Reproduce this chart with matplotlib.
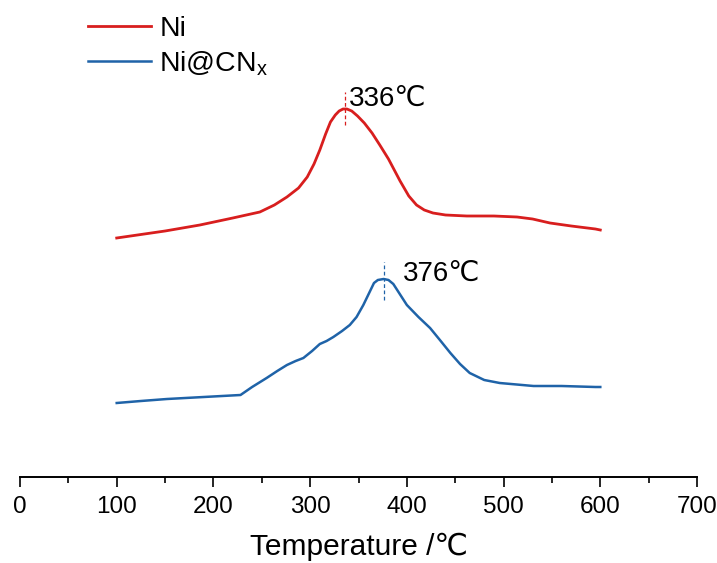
import matplotlib.pyplot as plt
from matplotlib.ticker import MultipleLocator

# TPD-like profiles (arbitrary intensity)
temp_ni = [100, 150, 186, 220, 248, 263, 276, 288, 297, 304, 310, 316, 321, 326, 330, 334, 338,
           343, 349, 356, 364, 372, 381, 393, 402, 410, 418, 427, 440, 462, 490, 514, 530, 548,
           570, 595, 600]
int_ni = [238, 231, 225, 218, 212, 205, 197, 188, 177, 164, 150, 134, 122, 115, 111, 109, 109,
          111, 116, 123, 133, 145, 159, 181, 196, 205, 210, 213, 215, 216, 216, 217, 219, 223,
          226, 229, 230]

temp_cn = [100, 125, 152, 190, 228, 240, 255, 266, 276, 285, 293, 302, 310, 317, 324, 333, 341,
           348, 355, 361, 366, 370, 376, 381, 386, 392, 400, 412, 424, 435, 445, 455, 465, 480,
           496, 531, 560, 595, 600]
int_cn = [403, 401, 399, 397, 395, 387, 378, 371, 365, 361, 358, 351, 344, 341, 337, 331, 325,
          317, 305, 293, 283, 280, 279, 280, 284, 293, 305, 317, 328, 341, 353, 364, 373, 380,
          383, 386, 386, 387, 387]

peak_ni = 336
peak_cn = 376

base = 477  # pixel row of the x axis, used to flip values to intensity
y_ni = [base - v for v in int_ni]
y_cn = [base - v for v in int_cn]

red = '#d81e1e'
blue = '#1f63a8'
fams = ['Liberation Sans', 'DejaVu Sans']

fig = plt.figure(figsize=(7.17, 5.63), dpi=100)
ax = fig.add_axes([20 / 717, (563 - 477) / 563, 677 / 717, 477 / 563])

ax.plot(temp_ni, y_ni, color=red, lw=2.0, label='Ni')
ax.plot(temp_cn, y_cn, color=blue, lw=1.8, label='Ni@CN$_\\mathregular{x}$')

ax.plot([peak_ni, peak_ni], [base - 125, base - 92], ls=(0, (3, 2)), color=red, lw=0.9)
ax.plot([peak_cn, peak_cn], [base - 300, base - 262], ls=(0, (3, 2)), color=blue, lw=0.9)
ax.text(peak_ni + 4, base - 106, f'{peak_ni}\u2103', fontsize=20, family=fams)
ax.text(peak_cn + 20, base - 281, f'{peak_cn}\u2103', fontsize=20, family=fams)

ax.set_xlim(0, 700)
ax.set_ylim(0, base)
ax.xaxis.set_major_locator(MultipleLocator(100))
ax.xaxis.set_minor_locator(MultipleLocator(50))
ax.tick_params(axis='x', which='major', direction='out', length=7, width=1.2,
               labelsize=17.5, pad=7)
ax.tick_params(axis='x', which='minor', direction='out', length=4, width=1.2)
for lab in ax.get_xticklabels():
    lab.set_family(fams)
ax.set_yticks([])
for s in ['top', 'left', 'right']:
    ax.spines[s].set_visible(False)
ax.spines['bottom'].set_linewidth(1.4)
ax.set_xlabel('Temperature /\u2103', fontsize=21.5, family=fams, labelpad=10)

ax.legend(loc='upper left', bbox_to_anchor=(0.063, 1.02), frameon=False, handlelength=2.2,
          handletextpad=0.3, labelspacing=0.25, prop={'family': fams, 'size': 20.5})

fig.savefig('out.png', dpi=100)
